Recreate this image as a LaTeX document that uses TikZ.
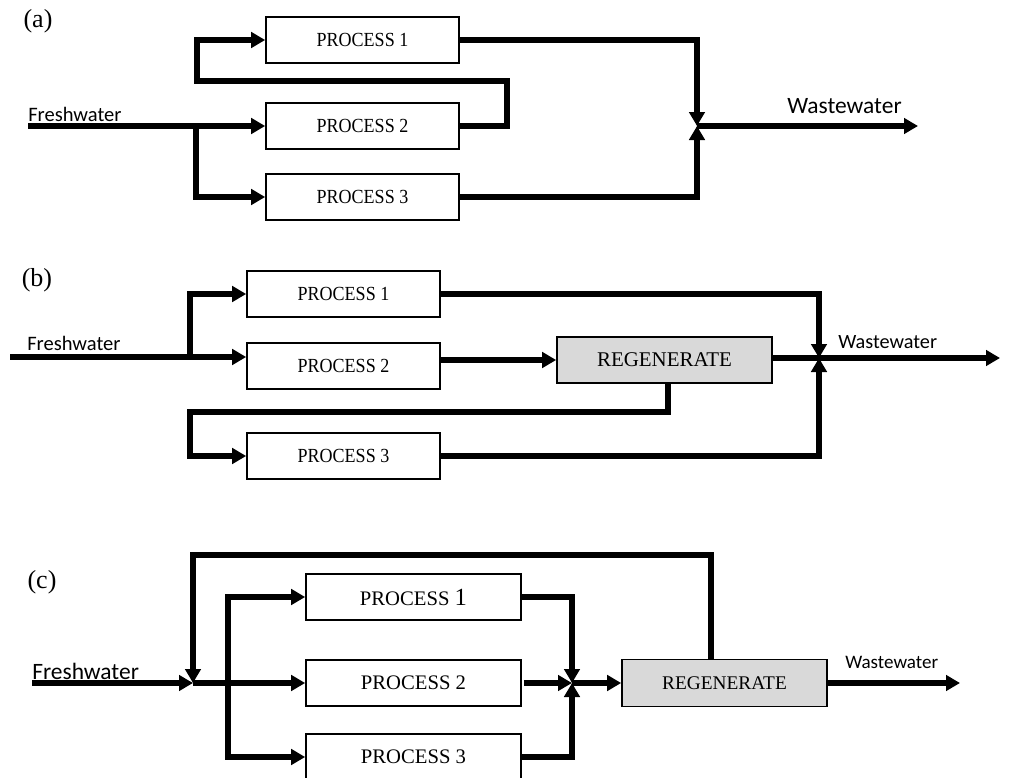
\documentclass[tikz,border=0pt]{standalone}
\usepackage{fontspec}
\setmainfont{Liberation Serif}
\newfontfamily\labelsans{Carlito}
\usetikzlibrary{arrows.meta}

% sizes are given in pixel-like units of 0.75pt
\newcommand{\pxfont}[1]{\fontsize{#1}{#1}\selectfont}

\tikzset{
  flow/.style={line width=4.2pt, -{Triangle[length=10.5pt,width=11.5pt]}},
  pipe/.style={line width=4.2pt},
  procbox/.style={draw, line width=1.25pt, fill=white, inner sep=0pt,
    minimum width=144.75pt, minimum height=34.5pt},
  regenbox/.style={draw, line width=1.25pt, fill=regengray, inner sep=0pt,
    minimum height=34.5pt},
  streamlabel/.style={inner sep=0pt, anchor=base west, font=\labelsans},
  panellabel/.style={inner sep=0pt, font=\pxfont{19.5pt}},
}
\definecolor{regengray}{RGB}{217,217,217}

\begin{document}
\begin{tikzpicture}[x=0.75pt, y=-0.75pt]
  \clip (0,0) rectangle (1015,778);
  \fill[white] (0,0) rectangle (1015,778);

  % ---------------- (a) parallel processes with reuse ----------------
  \node[panellabel] (la) at (38,21) {(a)};
  \node[procbox, font=\pxfont{15pt}] (P1a) at (362.5,40) {\scalebox{0.9}[1]{PROCESS 1}};
  \node[procbox, font=\pxfont{15pt}] (P2a) at (362.5,126) {\scalebox{0.9}[1]{PROCESS 2}};
  \node[procbox, font=\pxfont{15pt}] (P3a) at (362.5,197) {\scalebox{0.9}[1]{PROCESS 3}};
  \coordinate (Fa) at (28,126);
  \coordinate (Ba) at (196,126);
  \coordinate (ra1) at (507,81);
  \coordinate (ra2) at (197,81);
  \coordinate (Ja) at (697,126);
  \coordinate (Wa) at (918,126);
  \node[streamlabel, font=\labelsans\pxfont{15.4pt}] (fwa) at (28,121.5) {Freshwater};
  \node[streamlabel, font=\labelsans\pxfont{17.6pt}] (wwa) at (787,113) {Wastewater};

  \draw[flow] (Fa) -- (P2a.west);
  \draw[flow] (Ba) |- (P3a.west);
  \draw[flow] (P2a.east) -| (ra1) -- (ra2) |- (P1a.west);
  \draw[flow] (P1a.east) -| (Ja);
  \draw[flow] (P3a.east) -| (Ja);
  \draw[flow] (Ja) -- (Wa);

  % ---------------- (b) regeneration reuse ----------------
  \node[panellabel] (lb) at (37,280) {(b)};
  \node[procbox, font=\pxfont{15pt}] (P1b) at (343.5,294) {\scalebox{0.9}[1]{PROCESS 1}};
  \node[procbox, font=\pxfont{15pt}] (P2b) at (343.5,366) {\scalebox{0.9}[1]{PROCESS 2}};
  \node[procbox, font=\pxfont{15pt}] (P3b) at (343.5,456) {\scalebox{0.9}[1]{PROCESS 3}};
  \node[regenbox, minimum width=161.25pt, font=\pxfont{15.7pt}] (Rb) at (664.5,360) {REGENERATE};
  \coordinate (Fb) at (10,357);
  \coordinate (Bb) at (190,357);
  \coordinate (rb1) at (668,412);
  \coordinate (rb2) at (190,412);
  \coordinate (Jb) at (819,358);
  \coordinate (Wb) at (1000,358);
  \node[streamlabel, font=\labelsans\pxfont{15.4pt}] (fwb) at (27,350) {Freshwater};
  \node[streamlabel, font=\labelsans\pxfont{15.2pt}] (wwb) at (838,348) {Wastewater};

  \draw[flow] (Fb) -- (Fb -| P2b.west);
  \draw[flow] (Bb) |- (P1b.west);
  \draw[flow] (P2b.east |- Rb.west) -- (Rb.west);
  \draw[flow] (rb1 |- Rb.south) -- (rb1) -- (rb2) |- (P3b.west);
  \draw[pipe] (Rb.east |- Jb) -- (Jb);
  \draw[flow] (P1b.east) -| (Jb);
  \draw[flow] (P3b.east) -| (Jb);
  \draw[flow] (Jb) -- (Wb);

  % ---------------- (c) regeneration recycling ----------------
  \node[panellabel] (lc) at (42,582) {(c)};
  \node[procbox, minimum width=161.25pt, font=\pxfont{15.5pt}] (P1c) at (413.5,597) {PROCESS {\pxfont{18.5pt}1}};
  \node[procbox, minimum width=161.25pt, font=\pxfont{15.5pt}] (P2c) at (413.5,683) {PROCESS 2};
  \node[procbox, minimum width=161.25pt, font=\pxfont{15.5pt}] (P3c) at (413.5,757) {PROCESS 3};
  \node[regenbox, minimum width=153.75pt, minimum height=35.25pt, font=\pxfont{14.5pt}] (Rc) at (724.5,683) {REGENERATE};
  \coordinate (Fc) at (32,683);
  \coordinate (J1c) at (193,683);
  \coordinate (Bc) at (228,683);
  \coordinate (J2c) at (572,683);
  \coordinate (tc1) at (711,555);
  \coordinate (Wc) at (960,683);
  \node[streamlabel, font=\labelsans\pxfont{17.6pt}] (fwc) at (32,679) {Freshwater};
  \node[streamlabel, font=\labelsans\pxfont{14.3pt}] (wwc) at (845,668) {Wastewater};

  \draw[flow] (Fc) -- (J1c);
  \draw[flow] (tc1 |- Rc.north) -- (tc1) -| (J1c);
  \draw[flow] (J1c) -- (P2c.west);
  \draw[flow] (Bc) |- (P1c.west);
  \draw[flow] (Bc) |- (P3c.west);
  \draw[flow] (P1c.east) -| (J2c);
  \draw[flow] (P3c.east) -| (J2c);
  \draw[flow] ([xshift=1.5pt]P2c.east) -- (J2c);
  \draw[flow] (J2c) -- (Rc.west);
  \draw[flow] (Rc.east) -- (Wc);
\end{tikzpicture}
\end{document}
